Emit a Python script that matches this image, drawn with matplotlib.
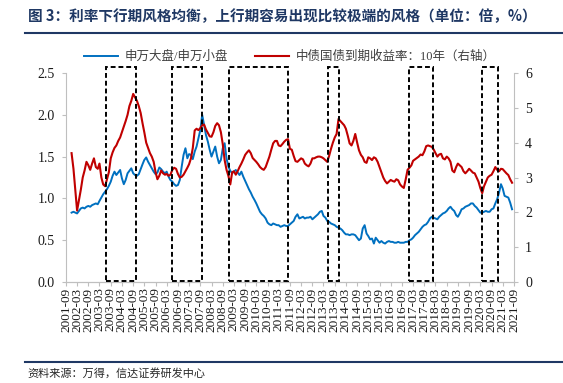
import matplotlib
matplotlib.use("Agg")
import matplotlib.pyplot as plt
import matplotlib.dates as mdates
from matplotlib.lines import Line2D
from matplotlib.patches import Rectangle
import pandas as pd

# Monthly readings, 2001-12 .. 2021-08
dates = pd.date_range("2001-12-01", "2021-08-01", freq="MS")

# 申万大盘/申万小盘 (left axis)
ratio = [
    0.83, 0.84, 0.83, 0.82, 0.85, 0.88, 0.89, 0.88, 0.90, 0.91, 0.90, 0.92,
    0.93, 0.94, 0.93, 0.97, 1.01, 1.05, 1.08, 1.11, 1.15, 1.20, 1.27, 1.32,
    1.28, 1.31, 1.34, 1.24, 1.17, 1.22, 1.30, 1.33, 1.36, 1.30, 1.28, 1.27,
    1.29, 1.35, 1.41, 1.46, 1.49, 1.44, 1.40, 1.36, 1.32, 1.29, 1.31, 1.37,
    1.35, 1.32, 1.30, 1.32, 1.26, 1.22, 1.20, 1.17, 1.15, 1.16, 1.22, 1.38,
    1.52, 1.60, 1.48, 1.53, 1.52, 1.47, 1.56, 1.62, 1.72, 1.82, 2.00, 1.88,
    1.76, 1.68, 1.58, 1.50, 1.56, 1.62, 1.50, 1.42, 1.46, 1.60, 1.66, 1.48,
    1.38, 1.33, 1.30, 1.32, 1.34, 1.31, 1.28, 1.32, 1.26, 1.21, 1.16, 1.11,
    1.07, 1.02, 0.98, 0.94, 0.89, 0.84, 0.81, 0.79, 0.76, 0.71, 0.69, 0.68,
    0.70, 0.69, 0.68, 0.68, 0.66, 0.67, 0.68, 0.67, 0.67, 0.69, 0.71, 0.73,
    0.78, 0.81, 0.76, 0.77, 0.78, 0.76, 0.77, 0.77, 0.78, 0.75, 0.77, 0.79,
    0.81, 0.84, 0.85, 0.79, 0.77, 0.73, 0.72, 0.70, 0.69, 0.68, 0.66, 0.65,
    0.64, 0.62, 0.59, 0.57, 0.57, 0.56, 0.57, 0.57, 0.56, 0.53, 0.50, 0.52,
    0.64, 0.68, 0.58, 0.55, 0.51, 0.52, 0.46, 0.53, 0.50, 0.47, 0.49, 0.47,
    0.46, 0.48, 0.49, 0.48, 0.48, 0.47, 0.47, 0.48, 0.47, 0.47, 0.47, 0.48,
    0.48, 0.50, 0.51, 0.53, 0.56, 0.58, 0.60, 0.63, 0.66, 0.68, 0.69, 0.72,
    0.76, 0.78, 0.77, 0.76, 0.75, 0.78, 0.80, 0.82, 0.83, 0.85, 0.88, 0.90,
    0.87, 0.85, 0.80, 0.78, 0.82, 0.87, 0.88, 0.90, 0.91, 0.92, 0.94, 0.94,
    0.91, 0.89, 0.86, 0.83, 0.83, 0.84, 0.85, 0.84, 0.84, 0.87, 0.88, 0.94,
    0.99, 1.07, 1.17, 1.12, 1.03, 1.02, 1.01, 0.95, 0.87,
]

# 中债国债到期收益率:10年 (right axis, %)
yield10 = [
    3.70, 3.25, 2.60, 2.05, 2.35, 2.65, 3.00, 3.20, 3.45, 3.35, 3.22, 3.40,
    3.55, 3.30, 3.25, 3.40, 3.00, 2.80, 2.75, 2.95, 3.15, 3.55, 3.72, 3.85,
    3.92, 4.05, 4.15, 4.30, 4.47, 4.62, 4.80, 5.05, 5.20, 5.40, 5.30, 5.20,
    5.05, 4.85, 4.55, 4.30, 4.00, 3.85, 3.70, 3.60, 3.45, 3.15, 2.95, 3.05,
    3.20, 3.12, 3.08, 3.10, 3.05, 3.08, 3.22, 3.28, 3.25, 3.10, 3.00, 3.02,
    3.08, 3.18, 3.28, 3.38, 3.55, 3.85, 4.35, 4.40, 4.36, 4.42, 4.50, 4.52,
    4.38, 4.28, 4.18, 4.17, 4.30, 4.48, 4.56, 4.50, 4.30, 3.95, 3.50, 3.22,
    3.05, 2.80, 3.15, 3.18, 3.08, 3.18, 3.30, 3.40, 3.52, 3.65, 3.72, 3.78,
    3.70, 3.56, 3.50, 3.45, 3.38, 3.30, 3.25, 3.22, 3.30, 3.45, 3.60, 3.80,
    3.98, 4.05, 4.05, 3.92, 3.90, 3.96, 4.03, 4.08, 4.10, 3.82, 3.80, 3.62,
    3.47, 3.45, 3.50, 3.55, 3.52, 3.40, 3.35, 3.32, 3.40, 3.55, 3.55, 3.58,
    3.60, 3.60, 3.58, 3.55, 3.50, 3.45, 3.62, 3.82, 4.00, 4.15, 4.25, 4.68,
    4.62, 4.56, 4.50, 4.40, 4.20, 3.98, 3.92, 4.05, 4.25, 4.00, 3.78, 3.65,
    3.58, 3.45, 3.42, 3.58, 3.55, 3.50, 3.58, 3.55, 3.45, 3.30, 3.15, 3.00,
    2.90, 2.83, 2.88, 2.93, 2.90, 2.88, 2.95, 2.92, 2.80, 2.74, 2.70, 2.95,
    3.22, 3.28, 3.35, 3.48, 3.52, 3.56, 3.60, 3.66, 3.64, 3.75, 3.90, 3.92,
    3.90, 3.88, 3.80, 3.70, 3.60, 3.66, 3.68, 3.55, 3.52, 3.60, 3.55, 3.45,
    3.20, 3.15, 3.30, 3.40, 3.35, 3.30, 3.18, 3.12, 3.18, 3.25, 3.20, 3.14,
    3.12, 3.00, 2.88, 2.70, 2.55, 2.75, 2.88, 3.00, 3.05, 3.08, 3.18, 3.30,
    3.22, 3.18, 3.25, 3.24, 3.18, 3.12, 3.07, 2.95, 2.85,
]

# Rising-rate periods marked by dashed boxes
box_starts = ["2003-06-13", "2006-05-24", "2008-12-09", "2013-05-10", "2016-12-21", "2020-03-25"]
box_ends = ["2004-10-16", "2007-09-25", "2011-07-28", "2013-11-06", "2018-01-19", "2020-12-12"]

tick_dates = pd.date_range("2001-09-01", "2021-09-01", freq="6MS")

title = "图 3：利率下行期风格均衡，上行期容易出现比较极端的风格（单位：倍，%）"
source = "资料来源：万得，信达证券研发中心"
label_ratio = "申万大盘/申万小盘"
label_yield = "中债国债到期收益率：10年（右轴）"

navy = "#1F3864"
grey = "#BFBFBF"
serif = "Liberation Serif"
cjk = ["Liberation Serif", "Noto Sans CJK SC"]

fig = plt.figure(figsize=(5.63, 3.83), dpi=100)
ax = fig.add_axes([0.1172, 0.2637, 0.7957, 0.5457])
ax2 = ax.twinx()

l1, = ax.plot(dates, ratio, color="#0070C0", lw=1.4, label=label_ratio)
l2, = ax2.plot(dates, yield10, color="#C00000", lw=1.5, label=label_yield)

for s, e in zip(box_starts, box_ends):
    x0 = mdates.date2num(pd.Timestamp(s))
    x1 = mdates.date2num(pd.Timestamp(e))
    ax2.add_patch(Rectangle((x0, 0.01), x1 - x0, 2.56, transform=ax.transData,
                            fill=False, ec="black", lw=1.4,
                            ls=(0, (2.5, 1.5)), clip_on=False, zorder=5))

ax.set_xlim(pd.Timestamp("2001-09-01"), pd.Timestamp("2021-09-01"))
ax.set_ylim(0, 2.5)
ax2.set_ylim(0, 6)
ax.set_yticks([0, 0.5, 1.0, 1.5, 2.0, 2.5])
ax.set_yticklabels(["%.1f" % v for v in [0, 0.5, 1.0, 1.5, 2.0, 2.5]])
ax2.set_yticks(range(7))
ax.set_xticks(tick_dates)
ax.set_xticklabels([d.strftime("%Y-%m") for d in tick_dates], rotation=90)

for a in (ax, ax2):
    for sp in a.spines.values():
        sp.set_color(grey)
    a.spines["top"].set_visible(False)
ax.spines["right"].set_visible(False)
ax2.spines["left"].set_visible(False)

ax.tick_params(axis="y", direction="out", length=3, color=grey, pad=5,
               labelsize=10, labelcolor="#1a1a1a")
ax2.tick_params(axis="y", direction="out", length=3, color=grey, pad=5,
                labelsize=10, labelcolor="#1a1a1a")
ax.tick_params(axis="x", direction="out", length=3, color=grey, pad=1,
               labelsize=9.5, labelcolor="#1a1a1a")
for lab in ax.get_xticklabels() + ax.get_yticklabels() + ax2.get_yticklabels():
    lab.set_family(serif)

leg = ax.legend([l1, l2], [label_ratio, label_yield], loc="center",
                bbox_to_anchor=(0.5, 1.077), ncol=2, frameon=False,
                handlelength=2.7, columnspacing=2.2, handletextpad=0.5,
                prop={"family": cjk, "size": 9})
for t in leg.get_texts():
    t.set_color("#404040")

fig.text(0.05, 0.957, title, fontsize=10.5, fontweight="bold", color=navy,
         family="Noto Sans CJK SC", va="center")
fig.add_artist(Line2D([0.044, 1.0], [0.915, 0.915], transform=fig.transFigure,
                      color=navy, lw=1.5))
fig.add_artist(Line2D([0.044, 1.0], [0.055, 0.055], transform=fig.transFigure,
                      color=navy, lw=1.5))
fig.text(0.048, 0.026, source, fontsize=8, color="#262626",
         family="Noto Sans CJK SC", va="center")

fig.savefig("out.png", dpi=100)
